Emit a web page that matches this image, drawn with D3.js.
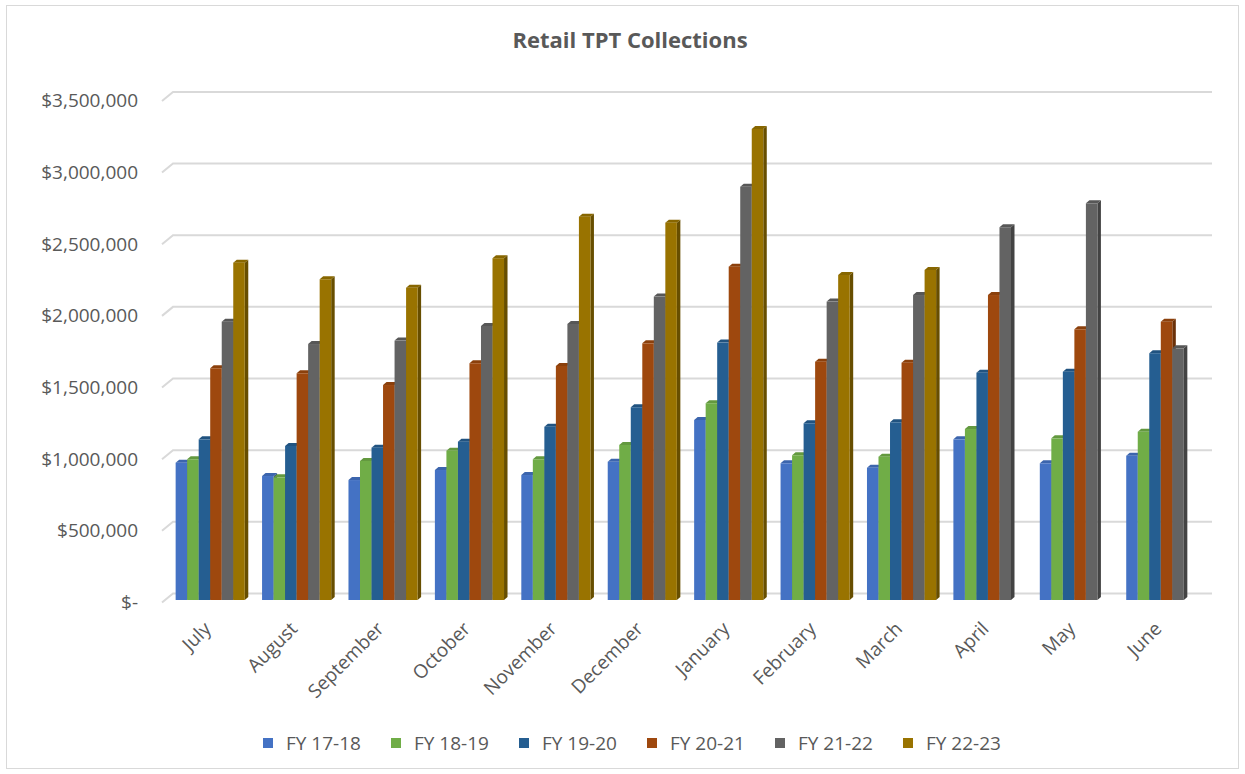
<!DOCTYPE html>
<html>
<head>
<meta charset="utf-8">
<script src="https://cdn.jsdelivr.net/npm/d3@7"></script>
<style>
  body { margin: 0; background: #fff; }
  svg { font-family: "Open Sans", sans-serif; }
</style>
</head>
<body>
<div id="chart"></div>
<script>
const months = ["July", "August", "September", "October", "November", "December",
                "January", "February", "March", "April", "May", "June"];
const seriesNames = ["FY 17-18", "FY 18-19", "FY 19-20", "FY 20-21", "FY 21-22", "FY 22-23"];
const colors = ["#4472C4", "#70AD47", "#255E91", "#9E480E", "#636363", "#997300"];

const fy1718 = [958000, 865000, 837000, 907000, 872000, 965000, 1256000, 954000, 923000, 1121000, 954000, 1007000];
const fy1819 = [982000, 856000, 970000, 1042000, 982000, 1082000, 1373000, 1010000, 1000000, 1193000, 1128000, 1174000];
const fy1920 = [1121000, 1075000, 1063000, 1105000, 1209000, 1345000, 1796000, 1233000, 1240000, 1586000, 1593000, 1722000];
const fy2021 = [1617000, 1582000, 1500000, 1652000, 1633000, 1791000, 2326000, 1663000, 1656000, 2128000, 1889000, 1942000];
const fy2122 = [1942000, 1786000, 1810000, 1912000, 1926000, 2117000, 2884000, 2082000, 2128000, 2601000, 2768000, 1756000];
const fy2223 = [2354000, 2238000, 2179000, 2385000, 2675000, 2633000, 3287000, 2268000, 2303000, null, null, null];
const yTicks = [0, 500000, 1000000, 1500000, 2000000, 2500000, 3000000, 3500000];

const allSeries = [fy1718, fy1819, fy1920, fy2021, fy2122, fy2223];

const width = 1245, height = 774;
const baseY = 600;          // front edge of the floor where bars stand
const wallDx = 11, wallDy = 9;  // depth of the floor / side wall
const depthX = 3.5, depthY = 3; // depth of each bar

const svg = d3.select("#chart").append("svg")
    .attr("width", width)
    .attr("height", height);

// chart border
svg.append("rect")
    .attr("x", 6.5).attr("y", 5.5)
    .attr("width", 1232).attr("height", 763)
    .attr("fill", "#fff")
    .attr("stroke", "#d9d9d9");

svg.append("text")
    .attr("x", 630).attr("y", 48)
    .attr("text-anchor", "middle")
    .style("font-size", "22px")
    .style("font-weight", "bold")
    .style("fill", "#595959")
    .text("Retail TPT Collections");

const y = d3.scaleLinear()
    .domain([0, 3500000])
    .range([baseY, baseY - 501.6]);

const x0 = d3.scaleBand()
    .domain(months)
    .range([167, 1204]);

const x1 = d3.scaleBand()
    .domain(seriesNames)
    .range([0, x0.bandwidth()])
    .paddingOuter(0.75);

// back wall gridlines with a slanted side wall edge
const grid = svg.append("g");
yTicks.forEach(t => {
    const yw = y(t) - 6.5;
    grid.append("path")
        .attr("d", `M162,${yw + wallDy}L173,${yw}L1212,${yw}`)
        .attr("fill", "none")
        .attr("stroke", "#d9d9d9")
        .attr("stroke-width", 2);
});

// y axis labels
const yAxis = d3.axisLeft(y)
    .tickValues(yTicks)
    .tickSize(0)
    .tickPadding(24)
    .tickFormat(d => d === 0 ? "$-" : d3.format("$,")(d));

svg.append("g")
    .attr("transform", "translate(162, 2.5)")
    .call(yAxis)
    .call(g => g.select(".domain").remove())
    .selectAll("text")
    .style("font-family", "'Open Sans', sans-serif")
    .style("font-size", "19px")
    .style("fill", "#595959");

// bars
const bars = svg.append("g");
months.forEach((m, i) => {
    seriesNames.forEach((s, j) => {
        const v = allSeries[j][i];
        if (v == null) return;
        const bx = x0(m) + x1(s);
        const bw = x1.bandwidth();
        const top = y(v);
        const c = d3.color(colors[j]);
        const g = bars.append("g");

        // side face
        g.append("path")
            .attr("d", `M${bx + bw},${top}L${bx + bw + depthX},${top - depthY}L${bx + bw + depthX},${baseY - depthY}L${bx + bw},${baseY}Z`)
            .attr("fill", c.darker(1.1));
        // top face
        g.append("path")
            .attr("d", `M${bx},${top}L${bx + depthX},${top - depthY}L${bx + bw + depthX},${top - depthY}L${bx + bw},${top}Z`)
            .attr("fill", c.darker(0.35));
        // front face
        g.append("rect")
            .attr("x", bx)
            .attr("y", top)
            .attr("width", bw)
            .attr("height", baseY - top)
            .attr("fill", c);
    });
});

// x axis labels
const xAxis = d3.axisBottom(x0).tickSize(0);
svg.append("g")
    .attr("transform", `translate(0, ${baseY})`)
    .call(xAxis)
    .call(g => g.select(".domain").remove())
    .selectAll("text")
    .attr("x", 0).attr("y", 0).attr("dy", 0)
    .attr("transform", "translate(2, 30) rotate(-45)")
    .style("text-anchor", "end")
    .style("font-family", "'Open Sans', sans-serif")
    .style("font-size", "19px")
    .style("fill", "#595959");

// legend
const legend = svg.append("g");
seriesNames.forEach((s, j) => {
    const lx = 263 + j * 128;
    legend.append("rect")
        .attr("x", lx).attr("y", 738)
        .attr("width", 10).attr("height", 10)
        .attr("fill", colors[j]);
    legend.append("text")
        .attr("x", lx + 23).attr("y", 743)
        .attr("dy", "0.35em")
        .style("font-size", "19px")
        .style("fill", "#595959")
        .text(s);
});
</script>
</body>
</html>
